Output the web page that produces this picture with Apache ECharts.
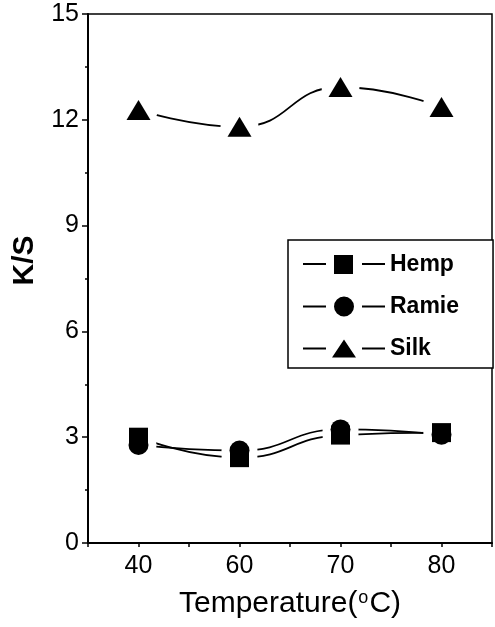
<!DOCTYPE html>
<html>
<head>
<meta charset="utf-8">
<script src="https://cdn.jsdelivr.net/npm/echarts@6/dist/echarts.min.js"></script>
<style>
  html, body { margin: 0; padding: 0; background: #fff; }
  #chart { width: 495px; height: 627px; }
</style>
</head>
<body>
<div id="chart"></div>
<script>
// temperatures are drawn evenly spaced, like categories
const temps = ['40', '60', '70', '80']
const hemp = [3.0, 2.42, 3.06, 3.13]
const ramie = [2.78, 2.62, 3.22, 3.07]
const silk = [12.28, 11.8, 12.93, 12.36]
const yTicks = { min: 0, max: 15, step: 3 }

const FONT = '"Liberation Sans", Arial, sans-serif'

// legend icons: line - gap - marker - gap - line (82 x 22 box)
const iconHemp = 'path://M0 10L23 10L23 12L0 12Z M31 2L50 2L50 21L31 21Z M59 10L82 10L82 12L59 12Z'
const iconRamie = 'path://M0 10L23 10L23 12L0 12Z M51 11A10 10 0 1 1 31 11A10 10 0 1 1 51 11Z M59 10L82 10L82 12L59 12Z'
const iconSilk = 'path://M0 10L23 10L23 12L0 12Z M29 20L53 20L41 2Z M59 10L82 10L82 12L59 12Z'

const toXY = arr => arr.map((v, i) => [i + 1, v])

const lineSeries = (name, vals) => ({
  name: name,
  type: 'line',
  data: toXY(vals),
  smooth: 0.5,
  symbol: 'none',
  z: 1,
  silent: true,
  itemStyle: { color: '#000' },
  lineStyle: { color: '#000', width: 1.8 }
})

// white discs under the markers so the curves stop short of them
const haloSeries = (vals, size) => ({
  name: 'halo',
  type: 'scatter',
  data: toXY(vals),
  symbol: 'circle',
  symbolSize: size,
  z: 2,
  silent: true,
  itemStyle: { color: '#fff', opacity: 1 }
})

const markSeries = (vals, symbol, size) => ({
  name: 'mark',
  type: 'scatter',
  data: toXY(vals),
  symbol: symbol,
  symbolSize: size,
  z: 3,
  silent: true,
  itemStyle: { color: '#000', opacity: 1 }
})

const chart = echarts.init(document.getElementById('chart'))
chart.setOption({
  animation: false,
  backgroundColor: '#fff',
  grid: {
    left: 88,
    right: 3,
    top: 14,
    bottom: 84,
    show: true,
    borderColor: '#000',
    borderWidth: 1.5
  },
  legend: {
    data: [
      { name: 'Hemp', icon: iconHemp },
      { name: 'Ramie', icon: iconRamie },
      { name: 'Silk', icon: iconSilk }
    ],
    orient: 'vertical',
    left: 288,
    top: 240,
    itemWidth: 82,
    itemHeight: 22,
    itemGap: 19,
    padding: [13, 34, 8, 15],
    borderColor: '#000',
    borderWidth: 1.5,
    backgroundColor: '#fff',
    selectedMode: false,
    itemStyle: { borderWidth: 0 },
    textStyle: { color: '#000', fontSize: 23, fontWeight: 'bold', fontFamily: FONT }
  },
  xAxis: {
    type: 'value',
    min: 0.5,
    max: 4.5,
    interval: 0.5,
    splitLine: { show: false },
    axisLine: { lineStyle: { color: '#000', width: 2 } },
    axisTick: { show: true, length: 4, lineStyle: { color: '#000', width: 1.5 } },
    axisLabel: {
      color: '#000',
      fontSize: 25,
      fontFamily: FONT,
      margin: 11,
      formatter: v => (Number.isInteger(v) && v >= 1 && v <= temps.length) ? temps[v - 1] : ''
    },
    name: 'Temperature({sup|o}C)',
    nameLocation: 'middle',
    nameGap: 46,
    nameTextStyle: {
      color: '#000',
      fontSize: 30,
      fontFamily: FONT,
      rich: {
        sup: { fontSize: 18, color: '#000', fontFamily: FONT, verticalAlign: 'top', padding: [0, 1, 12, 1] }
      }
    }
  },
  yAxis: {
    type: 'value',
    min: yTicks.min,
    max: yTicks.max,
    interval: yTicks.step,
    splitLine: { show: false },
    axisLine: { show: true, lineStyle: { color: '#000', width: 2 } },
    axisTick: { show: true, length: 6, lineStyle: { color: '#000', width: 1.5 } },
    minorTick: { show: true, splitNumber: 2, length: 3, lineStyle: { color: '#000', width: 1.5 } },
    axisLabel: { color: '#000', fontSize: 25, fontFamily: FONT, margin: 9 },
    name: 'K/S',
    nameLocation: 'middle',
    nameGap: 48,
    nameTextStyle: { color: '#000', fontSize: 30, fontWeight: 'bold', fontFamily: FONT, padding: [0, 0, 0, 36] }
  },
  series: [
    lineSeries('Hemp', hemp),
    lineSeries('Ramie', ramie),
    lineSeries('Silk', silk),
    haloSeries(hemp, 36),
    haloSeries(ramie, 36),
    haloSeries(silk, 38),
    markSeries(hemp, 'rect', 19),
    markSeries(ramie, 'circle', 20),
    markSeries(silk, 'triangle', [24, 20])
  ]
})
</script>
</body>
</html>
